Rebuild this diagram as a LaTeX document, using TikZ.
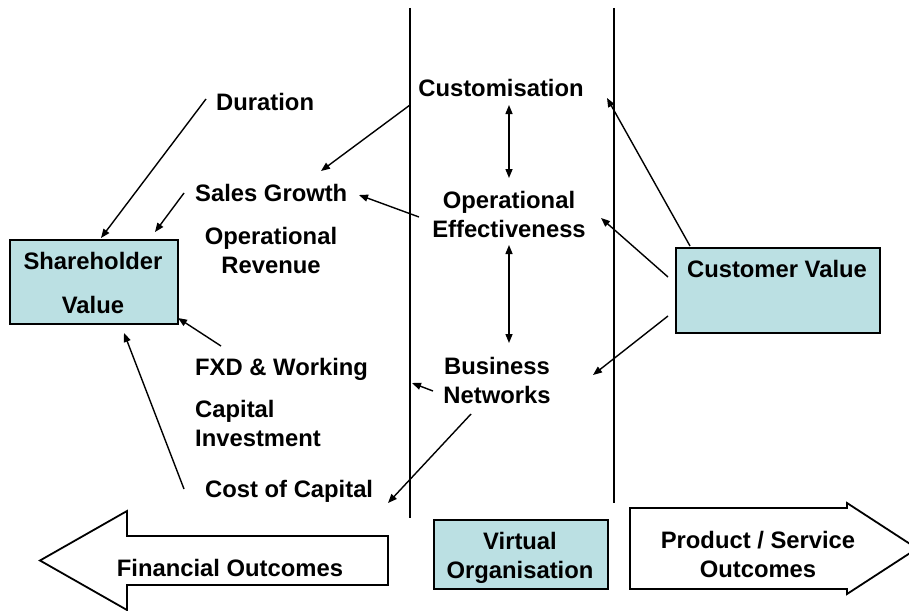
\documentclass[tikz,border=0pt]{standalone}
\usepackage{fontspec}
\setmainfont{Liberation Sans}
\usetikzlibrary{arrows.meta}
\definecolor{boxfill}{RGB}{187,224,227}
\begin{document}
\begin{tikzpicture}[x=1pt,y=-1pt,
  lbl/.style={font=\bfseries\fontsize{23.8}{28.5}\selectfont, inner sep=0pt, align=center},
  lbll/.style={lbl, align=left},
  panel/.style={draw, line width=1.8pt, fill=boxfill, inner sep=0pt, anchor=north west},
  conn/.style={line width=1.4pt, -{Triangle[length=9pt,width=7pt]}},
  both/.style={line width=1.4pt, {Triangle[length=9pt,width=7pt]}-{Triangle[length=9pt,width=7pt]}},
  divider/.style={line width=1.8pt},
  bigarrow/.style={draw, line width=1.8pt, fill=white, line join=miter}]

\useasboundingbox (0,0) rectangle (909,610);
\clip (0,0) rectangle (909,610);

% dividers
\coordinate (l1top) at (410,8);
\coordinate (l1bot) at (410,518);
\coordinate (l2top) at (614,8);
\coordinate (l2bot) at (614,503);
\draw[divider] (l1top) -- (l1bot);
\draw[divider] (l2top) -- (l2bot);

% boxes
\node[panel, minimum width=168pt, minimum height=84pt] (shv) at (9,239) {};
\node[lbl, anchor=base] (shvt) at (93,313) {Shareholder\\[15.5pt]Value};
\node[panel, minimum width=204pt, minimum height=85pt] (cv) at (675,247) {};
\node[lbl, anchor=base] (cvt) at (777,277) {Customer Value};
\node[panel, minimum width=174pt, minimum height=69pt] (vo) at (433,519) {};
\node[lbl, anchor=base] (vot) at (520,578) {Virtual\\Organisation};

% big arrows
\path[bigarrow] (388,536) -- (127,536) -- (127,511) -- (40,560.5) -- (127,610) -- (127,585) -- (388,585) -- cycle;
\node[lbl, anchor=base] (fo) at (230,576) {Financial Outcomes};
\path[bigarrow] (630,508) -- (847,508) -- (847,503) -- (917,548.5) -- (847,594) -- (847,589) -- (630,589) -- cycle;
\node[lbl, anchor=base] (pso) at (758,577) {Product / Service\\Outcomes};

% labels
\node[lbl, anchor=base west] (dur) at (216,110) {Duration};
\node[lbl, anchor=base west] (sg) at (195,201) {Sales Growth};
\node[lbl, anchor=base] (orv) at (271,273) {Operational\\Revenue};
\node[lbl, anchor=base west] (fxd) at (195,375) {FXD \& Working};
\node[lbll, anchor=base west] (cap) at (195,446) {Capital\\Investment};
\node[lbl, anchor=base west] (coc) at (205,497) {Cost of Capital};
\node[lbl, anchor=base] (cus) at (501,96) {Customisation};
\node[lbl, anchor=base] (ope) at (509,237) {Operational\\Effectiveness};
\node[lbl, anchor=base] (bn) at (497,403) {Business\\Networks};

% connector end points
\coordinate (a1s) at (206,99);   \coordinate (a1e) at (101,238);
\coordinate (a2s) at (184,193);  \coordinate (a2e) at (155,232);
\coordinate (a3s) at (221,346);  \coordinate (a3e) at (178,318);
\coordinate (a4s) at (184,489);  \coordinate (a4e) at (124,333);
\coordinate (a5s) at (410,105);  \coordinate (a5e) at (321,171);
\coordinate (a6s) at (419,217);  \coordinate (a6e) at (359,195);
\coordinate (a7s) at (509,105);  \coordinate (a7e) at (509,178);
\coordinate (a8s) at (509,245);  \coordinate (a8e) at (509,343);
\coordinate (a9s) at (433,391);  \coordinate (a9e) at (412,383);
\coordinate (a10s) at (471,414); \coordinate (a10e) at (388,503);
\coordinate (a11s) at (690,246); \coordinate (a11e) at (607,98);
\coordinate (a12s) at (668,277); \coordinate (a12e) at (601,218);
\coordinate (a13s) at (668,316); \coordinate (a13e) at (593,375);

\draw[conn] (a1s) -- (a1e);
\draw[conn] (a2s) -- (a2e);
\draw[conn] (a3s) -- (a3e);
\draw[conn] (a4s) -- (a4e);
\draw[conn] (a5s) -- (a5e);
\draw[conn] (a6s) -- (a6e);
\draw[both] (a7s) -- (a7e);
\draw[both] (a8s) -- (a8e);
\draw[conn] (a9s) -- (a9e);
\draw[conn] (a10s) -- (a10e);
\draw[conn] (a11s) -- (a11e);
\draw[conn] (a12s) -- (a12e);
\draw[conn] (a13s) -- (a13e);
\end{tikzpicture}
\end{document}
